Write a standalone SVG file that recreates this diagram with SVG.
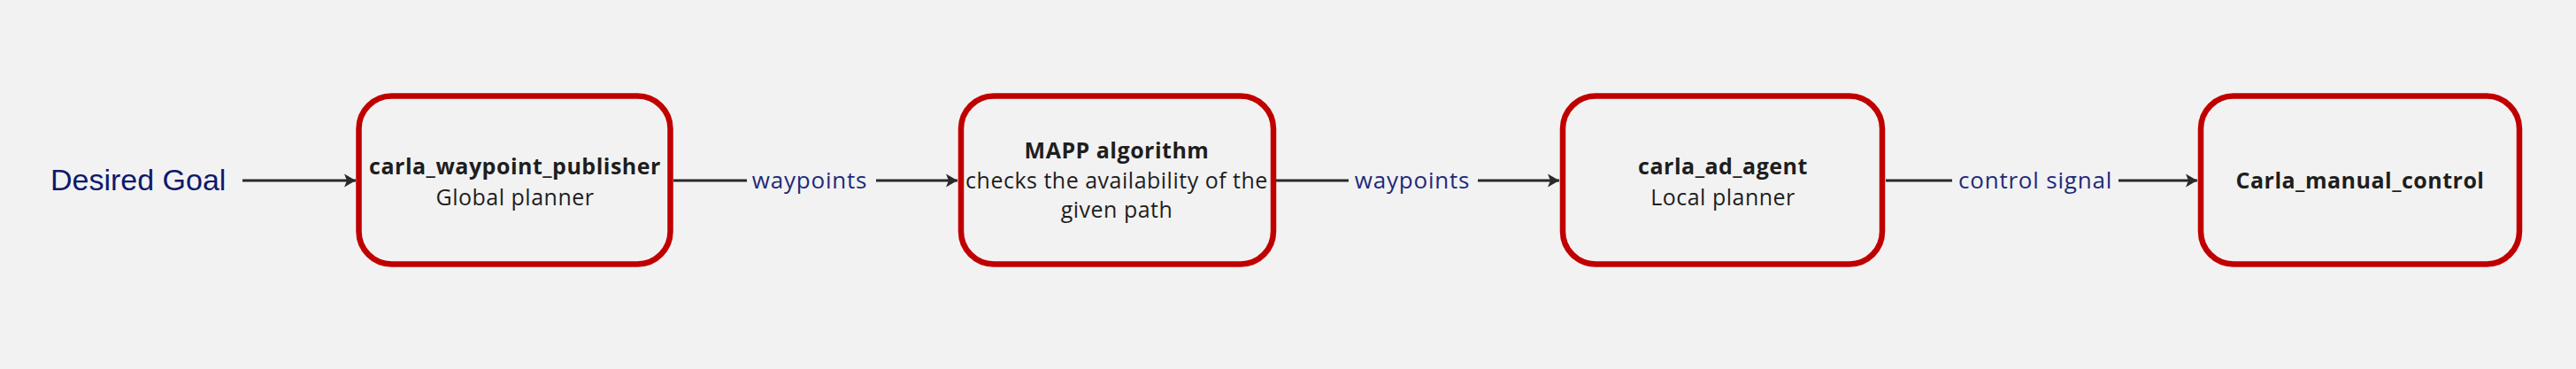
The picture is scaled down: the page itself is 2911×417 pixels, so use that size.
<svg xmlns="http://www.w3.org/2000/svg" width="2911" height="417" viewBox="0 0 2911 417">
<defs>
<style>
.bg{fill:#f2f2f2}
.box{fill:#f2f2f2;stroke:#c00000;stroke-width:6.5}
.t{font-family:"Open Sans","Noto Sans",sans-serif;font-size:25px;letter-spacing:0.5px;fill:#1e1e1e;text-anchor:middle}
.b{font-weight:bold}
.lbl{font-family:"Open Sans","Noto Sans",sans-serif;font-size:26px;letter-spacing:0.8px;fill:#1f2a7a;text-anchor:middle}
.goal{font-family:"Liberation Sans",Arial,sans-serif;font-size:34px;fill:#0d1a6e}
.edge{stroke:#2a2a2a;stroke-width:3;fill:none}
</style>
<marker id="arr" markerWidth="15" markerHeight="16" refX="13" refY="7.5" orient="auto" markerUnits="userSpaceOnUse" viewBox="0 0 15 15">
<path d="M0,0 L13,7.5 L0,15 L3,7.5 Z" fill="#2a2a2a"/>
</marker>
</defs>
<rect class="bg" x="0" y="0" width="2911" height="417"/>
<g id="connectors">
<line class="edge" x1="274" y1="204" x2="402" y2="204" marker-end="url(#arr)"/>
<line class="edge" x1="761" y1="204" x2="844" y2="204"/>
<line class="edge" x1="990" y1="204" x2="1082" y2="204" marker-end="url(#arr)"/>
<text class="lbl" x="915" y="213">waypoints</text>
<line class="edge" x1="1442" y1="204" x2="1524" y2="204"/>
<line class="edge" x1="1670" y1="204" x2="1762" y2="204" marker-end="url(#arr)"/>
<text class="lbl" x="1596" y="213">waypoints</text>
<line class="edge" x1="2131" y1="204" x2="2206" y2="204"/>
<line class="edge" x1="2394" y1="204" x2="2483" y2="204" marker-end="url(#arr)"/>
<text class="lbl" x="2300" y="213">control signal</text>
</g>
<g id="goal">
<text class="goal" x="57" y="215">Desired Goal</text>
</g>
<g id="node1">
<rect class="box" x="405.5" y="108.5" width="352" height="190" rx="37"/>
<text class="t b" x="582" y="197">carla_waypoint_publisher</text>
<text class="t" x="582" y="232">Global planner</text>
</g>
<g id="node2">
<rect class="box" x="1086" y="108.5" width="353" height="190" rx="37"/>
<text class="t b" x="1262" y="179">MAPP algorithm</text>
<text class="t" x="1262" y="213">checks the availability of the</text>
<text class="t" x="1262" y="246">given path</text>
</g>
<g id="node3">
<rect class="box" x="1766" y="108.5" width="361" height="190" rx="37"/>
<text class="t b" x="1947" y="197">carla_ad_agent</text>
<text class="t" x="1947" y="232">Local planner</text>
</g>
<g id="node4">
<rect class="box" x="2487" y="108.5" width="360" height="190" rx="37"/>
<text class="t b" x="2667" y="213">Carla_manual_control</text>
</g>
</svg>
